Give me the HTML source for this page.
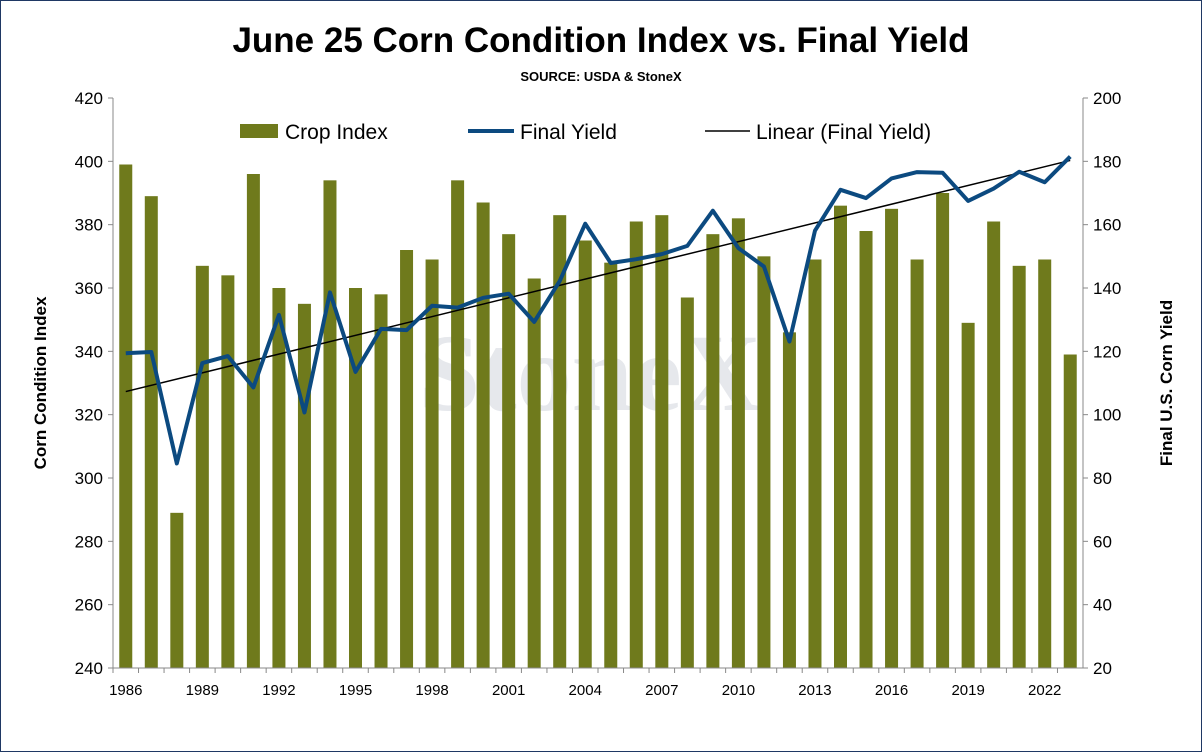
<!DOCTYPE html>
<html><head><meta charset="utf-8"><style>
html,body{margin:0;padding:0;background:#fff;}
svg{display:block;font-family:"Liberation Sans",Arial,sans-serif;}
</style></head><body>
<svg id="chart" width="1202" height="752">
<rect x="0.5" y="0.5" width="1201" height="751" fill="#fff" stroke="#1f3864" stroke-width="1"/>
<text x="601" y="52" text-anchor="middle" font-size="35" font-weight="bold">June 25 Corn Condition Index vs. Final Yield</text>
<text x="601" y="81" text-anchor="middle" font-size="13" font-weight="bold">SOURCE: USDA &amp; StoneX</text>
<text x="590" y="410" text-anchor="middle" font-size="110" font-family="Liberation Serif,serif" font-weight="bold" fill="#e6e8ec">StoneX</text>
<g id="plot"></g>
<text transform="translate(46,383) rotate(-90)" text-anchor="middle" font-size="17" font-weight="bold">Corn Condition Index</text>
<text transform="translate(1172,383) rotate(-90)" text-anchor="middle" font-size="17" font-weight="bold">Final U.S. Corn Yield</text>
<g>
<rect x="240" y="124" width="38" height="14" fill="#6f7a1c"/>
<text x="285" y="139" font-size="21">Crop Index</text>
<line x1="468" y1="131" x2="514" y2="131" stroke="#0c4a80" stroke-width="4"/>
<text x="520" y="139" font-size="21">Final Yield</text>
<line x1="705" y1="131" x2="750" y2="131" stroke="#000" stroke-width="1.5"/>
<text x="756" y="139" font-size="21">Linear (Final Yield)</text>
</g>
</svg>
<script>
const years=[1986,1987,1988,1989,1990,1991,1992,1993,1994,1995,1996,1997,1998,1999,2000,2001,2002,2003,2004,2005,2006,2007,2008,2009,2010,2011,2012,2013,2014,2015,2016,2017,2018,2019,2020,2021,2022,2023];
const cropIndex=[399,389,289,367,364,396,360,355,394,360,358,372,369,394,387,377,363,383,375,368,381,383,357,377,382,370,346,369,386,378,385,369,390,349,381,367,369,339];
const finalYield=[119.4,119.8,84.6,116.3,118.5,108.6,131.5,100.7,138.6,113.5,127.1,126.7,134.4,133.8,136.9,138.2,129.3,142.2,160.3,147.9,149.1,150.7,153.3,164.4,152.6,146.8,123.1,158.1,171.0,168.4,174.6,176.6,176.4,167.5,171.4,176.7,173.4,181.5];
const leftTicks=[240,260,280,300,320,340,360,380,400,420];
const rightTicks=[20,40,60,80,100,120,140,160,180,200];
const xLabelYears=[1986,1989,1992,1995,1998,2001,2004,2007,2010,2013,2016,2019,2022];
const NS="http://www.w3.org/2000/svg";
const L=113,R=1083,T=98,B=668;
const bw=(R-L)/years.length;
const xc=i=>L+bw*(i+0.5);
const yl=v=>B-(v-240)/180*(B-T);
const yr=v=>B-(v-20)/180*(B-T);
const g=document.getElementById('plot');
function mk(tag,a){const e=document.createElementNS(NS,tag);for(const k in a)e.setAttribute(k,a[k]);g.appendChild(e);return e;}
cropIndex.forEach((v,i)=>{
 const r=mk('rect',{x:xc(i)-6.5,y:yl(v),width:13,height:B-yl(v),fill:'#6f7a1c'});
 
 
});
// axes
let ax=mk('line',{x1:L,y1:T,x2:L,y2:B,stroke:'#888'});

ax=mk('line',{x1:R,y1:T,x2:R,y2:B,stroke:'#888'});

ax=mk('line',{x1:L,y1:B,x2:R,y2:B,stroke:'#888'});

leftTicks.forEach(v=>{
 mk('line',{x1:L-5,y1:yl(v),x2:L,y2:yl(v),stroke:'#888'});
 const t=mk('text',{x:L-10,y:yl(v)+6,'text-anchor':'end','font-size':17});
 t.textContent=v;
 
 
});
rightTicks.forEach(v=>{
 mk('line',{x1:R,y1:yr(v),x2:R+5,y2:yr(v),stroke:'#888'});
 const t=mk('text',{x:R+10,y:yr(v)+6,'font-size':17});
 t.textContent=v;
 
 
});
years.forEach((y,i)=>{mk('line',{x1:L+bw*i,y1:B,x2:L+bw*i,y2:B+5,stroke:'#888'});});
xLabelYears.forEach(y=>{
 const i=years.indexOf(y);
 const t=mk('text',{x:xc(i),y:B+27,'text-anchor':'middle','font-size':15});
 t.textContent=y;
 
 
});
// trend
const n=years.length;let sx=0,sy=0,sxx=0,sxy=0;
finalYield.forEach((v,i)=>{sx+=i;sy+=v;sxx+=i*i;sxy+=i*v;});
const m=(n*sxy-sx*sy)/(n*sxx-sx*sx),b=(sy-m*sx)/n;
const tl=mk('line',{x1:xc(0),y1:yr(b),x2:xc(n-1),y2:yr(b+m*(n-1)),stroke:'#000','stroke-width':1.5});


const pl=mk('polyline',{points:finalYield.map((v,i)=>xc(i)+','+yr(v)).join(' '),fill:'none',stroke:'#0c4a80','stroke-width':4,'stroke-linejoin':'round'});


</script>
</body></html>
